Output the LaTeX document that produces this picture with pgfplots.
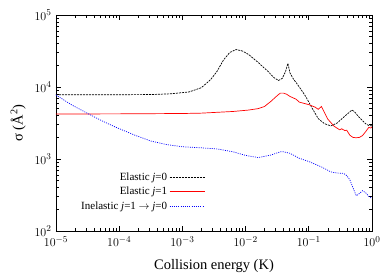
\documentclass[border=0pt]{standalone}
\usepackage{fontspec}
\setmainfont{Liberation Serif}
\usepackage{pgfplots}
\pgfplotsset{compat=1.18}
\begin{document}
\begin{tikzpicture}
\path[use as bounding box] (-56pt,-43pt) rectangle (336pt,231pt);
\begin{loglogaxis}[
  scale only axis,
  width=316pt, height=216pt,
  xmin=1e-5, xmax=1, ymin=1e2, ymax=1e5,
  axis line style={line width=0.8pt},
  major tick length=5pt, minor tick length=3pt,
  every tick/.style={black, line width=0.6pt},
  tick label style={font=\fontsize{12.5}{14}\selectfont},
  xticklabel style={yshift=-2pt},
  yticklabel style={xshift=-1pt},
  xlabel={Collision energy (K)},
  ylabel={σ (Å\textsuperscript{2})},
  label style={font=\fontsize{14.5}{16}\selectfont},
  xlabel style={at={(axis description cs:0.5,-0.176)}, anchor=base},
  ylabel style={at={(axis description cs:-0.12,0.5)}, anchor=center},
  legend plot pos=right,
  legend cell align=right,
  legend image code/.code={\draw[#1] (0pt,0pt) -- (35pt,0pt);},
  legend style={draw=none, fill=none, at={(axis description cs:0.475,0.08)}, anchor=south east,
    font=\fontsize{11}{13}\selectfont, row sep=1pt, inner sep=1pt},
]
\addplot[black, line width=0.7pt, dash pattern=on 2pt off 1pt] coordinates {
(1e-5,7816) (1e-4,7816) (3.162e-4,7852) (6.310e-4,8035) (1.259e-3,8511) (1.995e-3,9772)
(2.818e-3,12735) (3.548e-3,16596) (4.467e-3,23714) (5.623e-3,30200) (7.079e-3,33113)
(8.913e-3,31623) (0.01122,28184) (0.01585,21878) (0.02239,16596) (0.02818,13490)
(0.03311,12303) (0.03802,13183) (0.04266,16218) (0.04677,21380) (0.05012,15849)
(0.05623,13183) (0.07079,10000) (0.08913,7413) (0.1122,5129) (0.1413,3631)
(0.1778,3090) (0.2239,2884) (0.2818,3162) (0.3548,3802) (0.4467,4519) (0.4786,4786)
(0.5248,4571) (0.6310,3758) (0.7943,3090) (0.8913,2917) (1,2884)
};
\addlegendentry{Elastic \textit{j}=0}
\addplot[red, line width=0.7pt] coordinates {
(1e-5,4217) (1e-4,4236) (1e-3,4285) (1.995e-3,4335) (6.310e-3,4571) (0.01122,4786)
(0.01585,5012) (0.01995,5370) (0.02512,6310) (0.03162,7586) (0.03548,8222) (0.03981,8222)
(0.04467,7943) (0.05012,7413) (0.06310,6761) (0.07079,6166) (0.1,5689) (0.1259,5248)
(0.1413,4898) (0.1585,5370) (0.1738,4571) (0.1995,3589) (0.2512,2851) (0.3090,2541)
(0.3311,2630) (0.3715,2483) (0.3981,2512) (0.4467,2138) (0.5012,1995) (0.5623,1972)
(0.6310,1995) (0.7079,2113) (0.7943,2399) (0.8913,2754) (0.955,2692) (1,2786)
};
\addlegendentry{Elastic \textit{j}=1}
\addplot[blue, line width=0.7pt, dash pattern=on 1pt off 1.2pt] coordinates {
(1e-5,7745) (1.778e-5,5623) (3.548e-5,4074) (5.623e-5,3311) (8.913e-5,2754)
(1.778e-4,2138) (3.162e-4,1778) (5.623e-4,1585) (1e-3,1479) (1.995e-3,1429)
(3.548e-3,1380) (6.310e-3,1259) (0.01,1122) (0.01585,1047) (0.02512,1135)
(0.03548,1259) (0.03981,1259) (0.05012,1202) (0.07079,1023) (0.1,923) (0.1585,776)
(0.2239,661) (0.2818,638) (0.3548,631) (0.3981,589) (0.4467,513) (0.5012,398)
(0.5623,309) (0.6310,331) (0.7079,363) (0.7943,339) (0.8913,302) (1,282)
};
\addlegendentry{Inelastic \textit{j}=1 $\rightarrow$ \textit{j}=0}
\end{loglogaxis}
\end{tikzpicture}
\end{document}
